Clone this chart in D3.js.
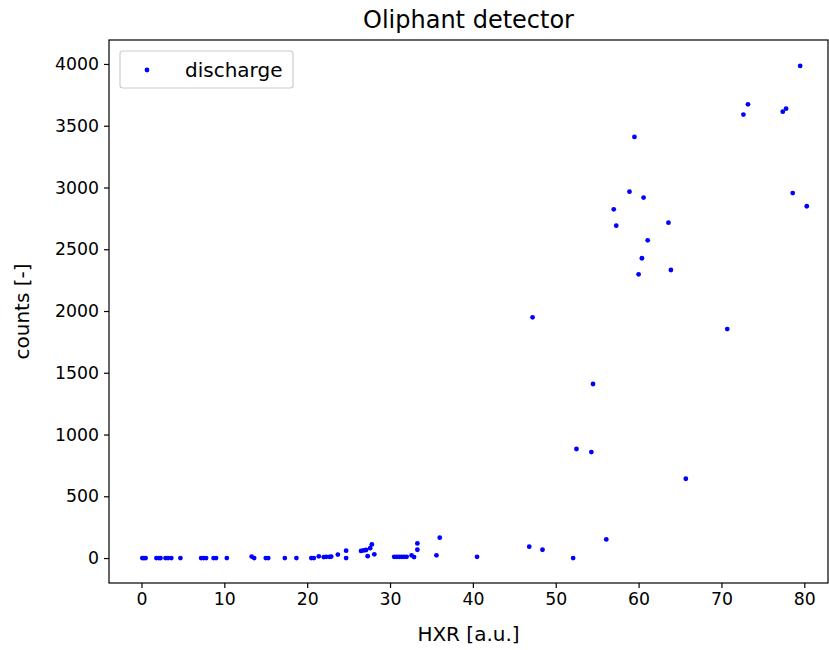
<!DOCTYPE html>
<html>
<head>
<meta charset="utf-8">
<script src="https://cdn.jsdelivr.net/npm/d3@7"></script>
<style>
  body { margin: 0; background: #fff; }
  svg text { font-family: "DejaVu Sans", sans-serif; fill: #000; }
</style>
</head>
<body>
<script>
// HXR [a.u.] and counts for each discharge
let hxr = [
  0.1, 0.3, 0.5, 1.8, 2.1, 2.3, 2.9, 3.2, 3.6, 4.7,
  7.2, 7.5, 7.8, 8.7, 9.0, 10.3, 13.3, 13.6, 15.0, 15.3,
  17.3, 18.7, 20.5, 20.8, 21.4, 22.0, 22.3, 22.7, 22.9, 23.7,
  24.7, 24.7, 26.5, 26.8, 27.1, 27.3, 27.6, 27.8, 28.1,
  30.5, 30.8, 31.1, 31.4, 31.7, 32.0, 32.6, 32.9, 33.3, 33.3,
  35.6, 36.0, 40.5, 46.8, 48.4, 52.1, 56.1,
  47.2, 54.5, 52.5, 54.3, 65.7, 70.7,
  59.5, 58.9, 60.6, 57.0, 57.3, 63.6, 61.1, 60.4, 60.0, 63.9,
  73.2, 72.65, 77.8, 77.4, 78.6, 80.3, 79.5
]
let counts = [
  0, 0, 0, 0, 0, 0, 0, 0, 0, 0,
  0, 0, 0, 0, 0, 0, 12, 0, 0, 0,
  0, 0, 0, 0, 14, 8, 10, 10, 12, 28,
  60, 0, 58, 62, 65, 15, 80, 110, 30,
  10, 10, 10, 10, 10, 10, 22, 8, 67, 118,
  22, 165, 10, 92, 67, 0, 151,
  1949, 1409, 883, 858, 642, 1854,
  3409, 2966, 2918, 2823, 2691, 2715, 2572, 2427, 2297, 2332,
  3673, 3590, 3638, 3614, 2955, 2848, 3984
]
let xTicks = [0, 10, 20, 30, 40, 50, 60, 70, 80]
let yTicks = [0, 500, 1000, 1500, 2000, 2500, 3000, 3500, 4000]

let width = 829
let height = 650
let mLeft = 109, mRight = 828, mTop = 40, mBottom = 583

let svg = d3.select("body").append("svg")
    .attr("width", width)
    .attr("height", height)

let x = d3.scaleLinear().domain([-3.92, 82.86]).range([mLeft, mRight])
let y = d3.scaleLinear().domain([-202, 4194]).range([mBottom, mTop])

let xAxis = d3.axisBottom(x).tickValues(xTicks).tickFormat(d3.format("d")).tickSize(5).tickPadding(5)
let yAxis = d3.axisLeft(y).tickValues(yTicks).tickFormat(d3.format("d")).tickSize(5).tickPadding(5)

svg.append("g")
    .attr("transform", "translate(0," + mBottom + ")")
    .call(xAxis)
svg.append("g")
    .attr("transform", "translate(" + mLeft + ",0)")
    .call(yAxis)

svg.selectAll(".domain").remove()
svg.selectAll(".tick line").attr("stroke", "#000").attr("stroke-width", 1.2)
svg.selectAll(".tick text").style("font-size", "17.3px").attr("fill", "#000")

// frame
svg.append("rect")
    .attr("x", mLeft)
    .attr("y", mTop)
    .attr("width", mRight - mLeft)
    .attr("height", mBottom - mTop)
    .attr("fill", "none")
    .attr("stroke", "#000")
    .attr("stroke-width", 1.2)

let pts = hxr.map((d, i) => [d, counts[i]])

svg.append("g")
    .selectAll("circle")
    .data(pts)
    .enter()
    .append("circle")
    .attr("cx", d => x(d[0]))
    .attr("cy", d => y(d[1]))
    .attr("r", 2.4)
    .attr("fill", "#0000ff")

// legend
let lg = svg.append("g")
lg.append("rect")
    .attr("x", 120)
    .attr("y", 51)
    .attr("width", 173)
    .attr("height", 37)
    .attr("rx", 3)
    .attr("fill", "#fff")
    .attr("fill-opacity", 0.8)
    .attr("stroke", "#cccccc")
    .attr("stroke-width", 1.2)
lg.append("circle")
    .attr("cx", 147)
    .attr("cy", 70)
    .attr("r", 2.4)
    .attr("fill", "#0000ff")
lg.append("text")
    .attr("x", 185)
    .attr("y", 70)
    .attr("dy", "0.35em")
    .style("font-size", "20px")
    .text("discharge")

svg.append("text")
    .attr("x", (mLeft + mRight) / 2)
    .attr("y", 28)
    .attr("text-anchor", "middle")
    .style("font-size", "24px")
    .text("Oliphant detector")

svg.append("text")
    .attr("x", (mLeft + mRight) / 2)
    .attr("y", 641)
    .attr("text-anchor", "middle")
    .style("font-size", "20px")
    .text("HXR [a.u.]")

svg.append("text")
    .attr("transform", "translate(29," + ((mTop + mBottom) / 2) + ") rotate(-90)")
    .attr("text-anchor", "middle")
    .style("font-size", "20px")
    .text("counts [-]")
</script>
</body>
</html>
